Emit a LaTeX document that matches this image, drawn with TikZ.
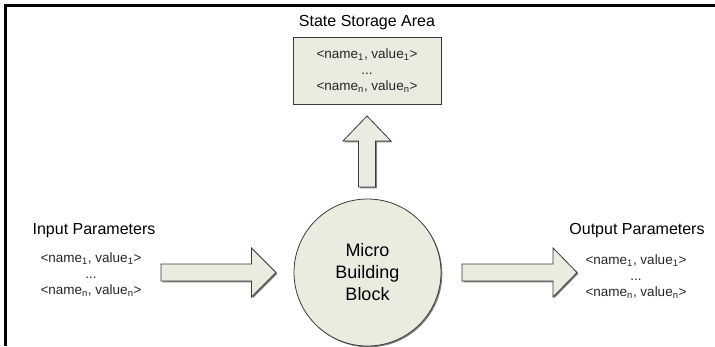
\documentclass[tikz,border=0pt]{standalone}
\usepackage{fontspec}
\setmainfont{Liberation Sans}
\usetikzlibrary{shadows}
\definecolor{shapefill}{HTML}{EBEBDF}
\definecolor{edgecol}{HTML}{3A3A3A}
\newcommand\pairone{<name\textsubscript{1}, value\textsubscript{1}>}
\newcommand\pairn{<name\textsubscript{n}, value\textsubscript{n}>}
\begin{document}
\begin{tikzpicture}[x=1pt,y=-1pt,
  blockshape/.style={fill=shapefill, draw=edgecol, line width=0.8pt,
    drop shadow={shadow xshift=1.3pt, shadow yshift=-1.3pt, fill=black!50, opacity=1}},
  heading/.style={font=\fontsize{16}{19}\selectfont, anchor=base, inner sep=0pt},
  pair/.style={font=\fontsize{13.5}{16}\selectfont, anchor=base, inner sep=0pt, text=black!85},
  blocktext/.style={font=\fontsize{18}{22}\selectfont, anchor=base, inner sep=0pt}]

% page area
\fill[white] (0,0) rectangle (715,346);
\useasboundingbox (0,0) rectangle (715,346);

% frame edges on the top and left
\draw[line width=3pt, line join=miter] (5.5,346) -- (5.5,5.5) -- (715,5.5);

% state storage area
\node[heading] (sstitle) at (367,26) {State Storage Area};
\draw[blockshape] (293,37) rectangle (441,104);
\node[pair] (ss1) at (367,58) {\pairone};
\node[pair] (ss2) at (367,74) {...};
\node[pair] (ss3) at (367,90) {\pairn};

% micro building block
\draw[blockshape] (367.5,272.5) circle (73.5);
\node[blocktext] (mbb1) at (367.5,256.5) {Micro};
\node[blocktext] (mbb2) at (367.5,278.5) {Building};
\node[blocktext] (mbb3) at (367.5,300.5) {Block};

% input parameters
\node[heading] (intitle) at (94,234) {Input Parameters};
\node[pair] (in1) at (91,262) {\pairone};
\node[pair] (in2) at (91,278) {...};
\node[pair] (in3) at (91,294) {\pairn};

% output parameters
\node[heading] (outtitle) at (637,234) {Output Parameters};
\node[pair] (out1) at (636,264) {\pairone};
\node[pair] (out2) at (636,280) {...};
\node[pair] (out3) at (636,296) {\pairn};

% block arrows
\draw[blockshape] (161,264) -- (251.5,264) -- (251.5,248) -- (276,272.5)
  -- (251.5,297) -- (251.5,281) -- (161,281) -- cycle;
\draw[blockshape] (462,264) -- (553,264) -- (553,248) -- (577,272.5)
  -- (553,297) -- (553,281) -- (462,281) -- cycle;
\draw[blockshape] (358.5,187) -- (358.5,141) -- (343,141) -- (367,116)
  -- (391,141) -- (375.5,141) -- (375.5,187) -- cycle;
\end{tikzpicture}
\end{document}
